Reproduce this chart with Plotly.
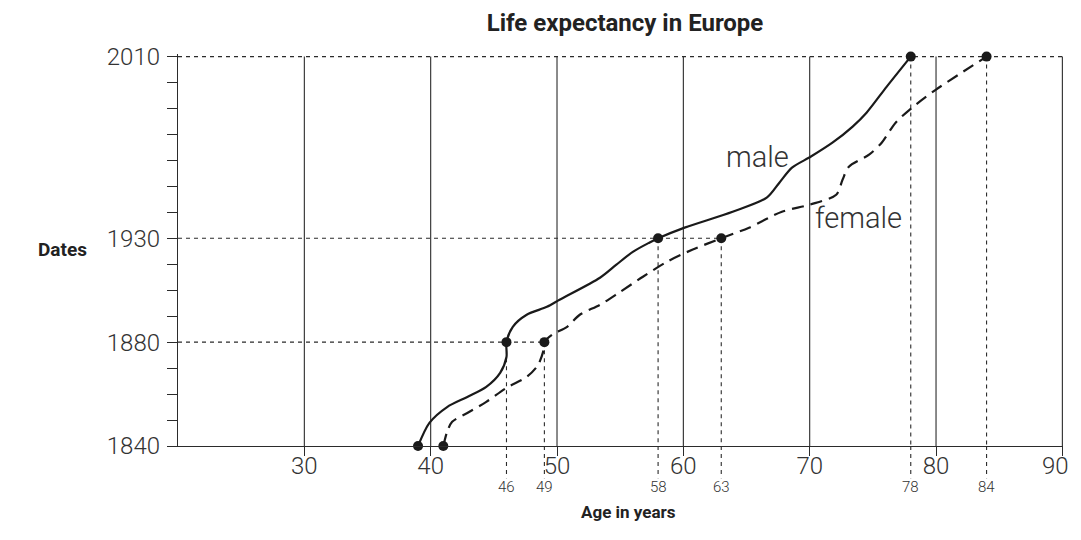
import numpy as np
import plotly.graph_objects as go

# ---- data ----
title = "Life expectancy in Europe"
x_title = "Age in years"
y_title = "Dates"

x_ticks = [30, 40, 50, 60, 70, 80, 90]
y_label_years = [1840, 1880, 1930, 2010]
y_label_slots = [0, 4, 8, 15]          # tick-slot of each labelled year on the (irregular) date axis
n_slots = 15

male_age = [39.0, 39.9, 41.3, 42.9, 44.4, 45.5, 46.0, 46.0, 46.5, 47.6, 49.2, 50.2, 53.4, 54.7,
            56.0, 57.3, 58.0, 60.1, 63.9, 66.6, 67.6, 68.6, 70.1, 71.8, 73.4, 74.5, 76.1, 78.0]
male_year = [1840, 1848.9, 1855.0, 1858.9, 1862.8, 1868.2, 1874.3, 1880, 1887.4, 1893.2, 1897.0,
             1900.4, 1911.0, 1917.3, 1923.5, 1927.9, 1930, 1934.7, 1941.7, 1947.9, 1954.5, 1961.1,
             1966.0, 1972.1, 1979.2, 1985.3, 1996.8, 2010]

female_age = [41.0, 41.3, 41.7, 42.9, 44.4, 46.0, 47.6, 48.5, 49.0, 49.0, 49.6, 50.8, 51.8, 53.4,
              54.9, 56.8, 58.7, 60.7, 63.0, 65.2, 67.8, 70.0, 72.1, 72.6, 73.1, 74.7, 75.7, 76.8,
              78.1, 80.0, 81.8, 84.0]
female_year = [1840, 1845.4, 1849.3, 1852.7, 1857.0, 1862.4, 1866.6, 1871.2, 1878.2, 1880, 1883.5,
               1887.4, 1893.2, 1898.0, 1903.8, 1911.5, 1918.7, 1924.5, 1930, 1934.7, 1941.7, 1944.8,
               1949.2, 1955.8, 1961.5, 1966.8, 1972.1, 1980.9, 1987.5, 1995.5, 2002.1, 2010]

male_pts_age = [39, 46, 58, 78]
male_pts_year = [1840, 1880, 1930, 2010]
female_pts_age = [41, 49, 63, 84]
female_pts_year = [1840, 1880, 1930, 2010]

guide_years = [1880, 1930, 2010]
guide_end_age = [49, 63, 90]
marked_ages = [46, 49, 58, 63, 78, 84]
marked_years = [1880, 1880, 1930, 1930, 2010, 2010]

male_label = ("male", 65.9, 1966)
female_label = ("female", 73.9, 1939)


def ypos(years):
    return np.interp(years, y_label_years, y_label_slots)


INK = "#2b2b2b"
FONT = "Roboto"
TICKFONT = dict(family=FONT, size=24, color="#333", weight=300)

fig = go.Figure()

# horizontal dashed guides
for yr, xe in zip(guide_years, guide_end_age):
    fig.add_trace(go.Scatter(x=[20, xe], y=[ypos(yr)] * 2, mode="lines",
                             line=dict(color=INK, width=1.1, dash="4px,4px"),
                             hoverinfo="skip", showlegend=False))
# vertical dashed guides (inside plot)
for a, yr in zip(marked_ages, marked_years):
    fig.add_trace(go.Scatter(x=[a, a], y=[ypos(yr), 0], mode="lines",
                             line=dict(color=INK, width=1.1, dash="4px,4px"),
                             hoverinfo="skip", showlegend=False))
    # continuation below the axis
    fig.add_shape(type="line", xref="x", yref="paper", x0=a, x1=a, y0=0, y1=-0.082,
                  line=dict(color=INK, width=1.1, dash="4px,4px"))

# vertical solid grid lines
for t in x_ticks:
    fig.add_shape(type="line", xref="x", yref="y", x0=t, x1=t, y0=0, y1=n_slots,
                  line=dict(color=INK, width=1.1), layer="below")

fig.add_trace(go.Scatter(x=male_age, y=ypos(male_year), mode="lines",
                         line=dict(color="#1a1a1a", width=2.2, shape="spline", smoothing=0.8),
                         showlegend=False, name="male"))
fig.add_trace(go.Scatter(x=female_age, y=ypos(female_year), mode="lines",
                         line=dict(color="#1a1a1a", width=2.2, shape="spline", smoothing=0.8,
                                   dash="12px,7px"),
                         showlegend=False, name="female"))
fig.add_trace(go.Scatter(x=male_pts_age + female_pts_age,
                         y=ypos(male_pts_year + female_pts_year), mode="markers",
                         marker=dict(color="#1a1a1a", size=10), cliponaxis=False,
                         showlegend=False))

annotations = []
for txt, a, yr in [male_label, female_label]:
    annotations.append(dict(x=a, y=float(ypos(yr)), xref="x", yref="y", text=txt, showarrow=False,
                            xanchor="center", yanchor="middle",
                            font=dict(family=FONT, size=29, color="#333", weight=300)))
for a in marked_ages:
    annotations.append(dict(x=a, y=-0.1047, xref="x", yref="paper", text=str(a), showarrow=False,
                            xanchor="center", yanchor="middle",
                            font=dict(family=FONT, size=15, color="#333", weight=300)))
# last x tick label, kept inside the visible page edge
annotations.append(dict(x=x_ticks[-1], y=-0.051, xref="x", yref="paper", text=str(x_ticks[-1]),
                        showarrow=False, xanchor="right", yanchor="middle", xshift=9,
                        font=TICKFONT))
annotations.append(dict(x=-0.13, y=0.5005, xref="paper", yref="paper", text="<b>" + y_title + "</b>",
                        xanchor="center", yanchor="middle",
                        showarrow=False, font=dict(family=FONT, size=19, color="#222")))
annotations.append(dict(x=0.5085, y=-0.1685, xref="paper", yref="paper",
                        xanchor="center", yanchor="middle",
                        text="<b>" + x_title + "</b>", showarrow=False,
                        font=dict(family=FONT, size=17, color="#222")))

tickvals_y = list(range(0, n_slots + 1))
ticktext_y = [str(y_label_years[y_label_slots.index(i)]) if i in y_label_slots else ""
              for i in tickvals_y]
ticktext_x = [str(t) for t in x_ticks[:-1]] + [""]

W, H = 1073, 524
fig.update_layout(
    width=W, height=H,
    margin=dict(l=170, r=18, t=46.4, b=86),
    paper_bgcolor="white", plot_bgcolor="white",
    title=dict(text="<b>" + title + "</b>", x=617 / W, xref="container", xanchor="center",
               y=1 - 15 / H, yanchor="middle", font=dict(family=FONT, size=24, color="#222")),
    xaxis=dict(range=[20, 90.05], tickvals=x_ticks, ticktext=ticktext_x,
               showgrid=False, zeroline=False, showline=True, linecolor=INK, linewidth=1.3,
               ticks="outside", ticklen=9, tickcolor=INK, tickwidth=1.1, ticklabelstandoff=-11,
               automargin=False, ticklabeloverflow="allow", tickfont=TICKFONT),
    yaxis=dict(range=[0, n_slots + 0.1], tickvals=tickvals_y, ticktext=ticktext_y,
               showgrid=False, zeroline=False, showline=True, linecolor=INK, linewidth=1.3,
               ticks="outside", ticklen=10, tickcolor=INK, tickwidth=1.1, ticklabelstandoff=2,
               automargin=False, ticklabeloverflow="allow", tickfont=TICKFONT),
    annotations=annotations,
)

fig.write_html("out.html")
